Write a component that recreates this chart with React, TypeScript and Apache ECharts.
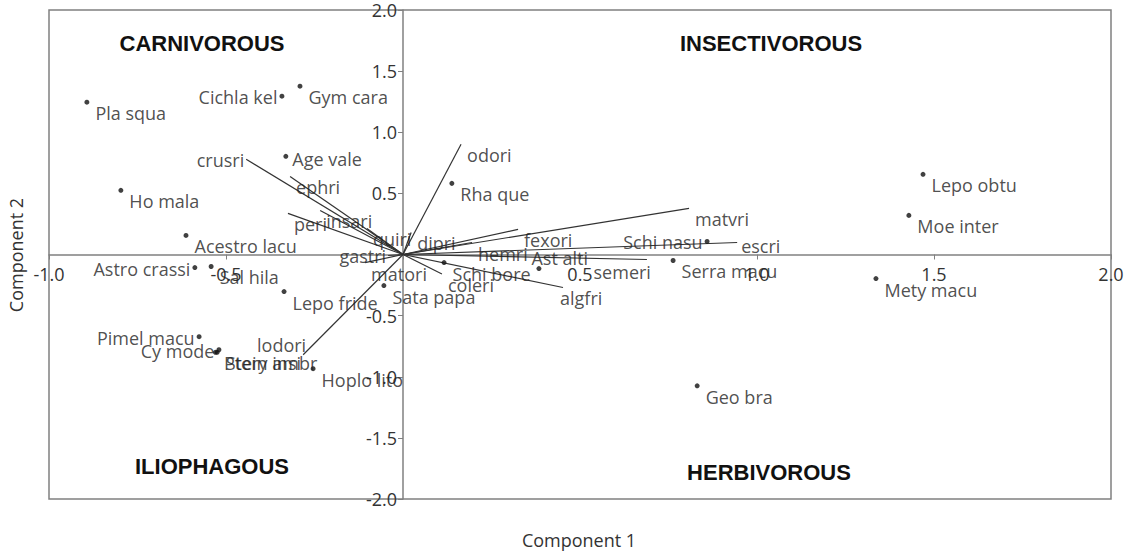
import React, { useEffect, useRef } from "react";
import * as echarts from "echarts";

// Species scores (Component 1, Component 2)
const speciesNames = [
  "Pla squa", "Cichla kel", "Gym cara", "Age vale", "Ho mala", "Acestro lacu",
  "Astro crassi", "Sal hila", "Lepo fride", "Pimel macu", "Cy mode", "Hoplo lito",
  "Ptery ambr", "Stein insi", "Rha que", "Ast alti", "Schi nasu", "Serra macu",
  "Lepo obtu", "Moe inter", "Mety macu", "Geo bra", "Schi bore", "Sata papa",
];
const speciesX = [
  -0.893, -0.342, -0.291, -0.331, -0.797, -0.613,
  -0.588, -0.542, -0.336, -0.576, -0.52, -0.254,
  -0.53, -0.525, 0.138, 0.384, 0.859, 0.763,
  1.469, 1.429, 1.336, 0.831, 0.116, -0.054,
];
const speciesY = [
  1.246, 1.295, 1.377, 0.803, 0.525, 0.156,
  -0.107, -0.098, -0.303, -0.672, -0.779, -0.934,
  -0.8, -0.8, 0.582, -0.115, 0.107, -0.049,
  0.656, 0.32, -0.197, -1.074, -0.066, -0.254,
];
// Which side of its point each species name sits on
const speciesLabelSide: Record<string, string> = {
  "Cichla kel": "l", "Astro crassi": "l", "Pimel macu": "l", "Cy mode": "l",
  "Schi nasu": "l", "Age vale": "r", "Ast alti": "rt",
};

// Variable loadings (diet items)
const variableNames = [
  "crusri", "ephri", "peri", "insari", "quiri", "gastri", "matori", "lodori",
  "odori", "dipri", "fexori", "hemri", "matvri", "escri", "semeri", "algfri", "coleri",
];
const variableX = [
  -0.443, -0.319, -0.325, -0.234, -0.102, -0.042, -0.107, -0.282,
  0.164, 0.023, 0.325, 0.195, 0.808, 0.944, 0.689, 0.452, 0.11,
];
const variableY = [
  0.779, 0.639, 0.336, 0.36, 0.213, -0.008, -0.066, -0.82,
  0.902, 0.18, 0.205, 0.098, 0.377, 0.098, -0.041, -0.27, -0.16,
];
const variableLabelSide: Record<string, string> = {
  crusri: "l", gastri: "l", lodori: "lt", escri: "r", semeri: "lb", algfri: "b",
};

const quadrantNames = ["CARNIVOROUS", "INSECTIVOROUS", "ILIOPHAGOUS", "HERBIVOROUS"];

const FONT = "'Open Sans', 'Noto Sans', sans-serif";
const FS = 18;

function labelFor(side: string | undefined) {
  const base = { show: true, color: "#222", fontFamily: FONT, fontSize: FS };
  switch (side) {
    case "l":
      return { ...base, position: "left", distance: 2, offset: [0, 1] };
    case "r":
      return { ...base, position: "right", distance: 4, offset: [0, 3] };
    case "rt":
      return { ...base, position: "right", distance: -10, offset: [0, -11] };
    case "lt":
      return { ...base, position: "left", distance: -3, offset: [0, -10] };
    case "lb":
      return { ...base, position: "left", distance: -4, offset: [0, 12] };
    case "b":
      return { ...base, position: "right", distance: -3, offset: [0, 10] };
    default:
      return { ...base, position: "right", distance: 6, offset: [0, 11] };
  }
}

export default function App() {
  const ref = useRef<HTMLDivElement>(null);
  useEffect(() => {
    if (!ref.current) return;
    const chart = echarts.init(ref.current, undefined, { renderer: "svg" });
    const axisColor = "#808080";
    const tickFmt = (v: number) => (Math.abs(v) < 1e-9 ? "" : v.toFixed(1));
    const gridLeft = 49, gridRight = 23, gridTop = 10, gridBottom = 54;
    const plotW = 1134 - gridLeft - gridRight;
    const plotH = 553 - gridTop - gridBottom;
    const xMin = -1, xMax = 2, yMin = -2, yMax = 2;
    // shift each axis from the grid edge to the zero line of the other axis
    const yAxisOffset = -((0 - xMin) / (xMax - xMin)) * plotW;
    const xAxisOffset = -((0 - yMin) / (yMax - yMin)) * plotH;
    const quadFont = "bold 22px 'Liberation Sans', Arial, sans-serif";
    chart.setOption({
      animation: false,
      backgroundColor: "#fff",
      grid: {
        left: gridLeft, right: gridRight, top: gridTop, bottom: gridBottom,
        show: true, borderColor: axisColor, borderWidth: 1.5, containLabel: false,
      },
      xAxis: {
        type: "value", min: xMin, max: xMax, interval: 0.5,
        position: "bottom", offset: xAxisOffset,
        axisLine: { onZero: false, lineStyle: { color: axisColor, width: 1.5 } },
        axisTick: { show: true, length: 5, lineStyle: { color: axisColor } },
        axisLabel: {
          formatter: tickFmt, color: "#333", fontFamily: FONT, fontSize: FS, margin: 10,
          showMinLabel: true, showMaxLabel: true, hideOverlap: false,
        },
        splitLine: { show: false },
      },
      yAxis: {
        type: "value", min: yMin, max: yMax, interval: 0.5,
        position: "left", offset: yAxisOffset,
        axisLine: { onZero: false, lineStyle: { color: axisColor, width: 1.5 } },
        axisTick: { show: true, length: 5, lineStyle: { color: axisColor } },
        axisLabel: {
          formatter: tickFmt, color: "#333", fontFamily: FONT, fontSize: FS, margin: 6,
          showMinLabel: true, showMaxLabel: true, hideOverlap: false,
        },
        splitLine: { show: false },
      },
      series: [
        {
          type: "lines",
          coordinateSystem: "cartesian2d",
          silent: true,
          symbol: "none",
          lineStyle: { color: "#333", width: 1.2, opacity: 1 },
          data: variableNames.map((n, i) => ({ coords: [[0, 0], [variableX[i], variableY[i]]] })),
          z: 2,
        },
        {
          type: "scatter",
          symbolSize: 0,
          silent: true,
          data: variableNames.map((n, i) => ({
            name: n,
            value: [variableX[i], variableY[i]],
            label: { ...labelFor(variableLabelSide[n]), formatter: n },
          })),
          z: 3,
        },
        {
          type: "scatter",
          symbolSize: 5,
          itemStyle: { color: "#111" },
          silent: true,
          data: speciesNames.map((n, i) => ({
            name: n,
            value: [speciesX[i], speciesY[i]],
            label: { ...labelFor(speciesLabelSide[n]), formatter: n },
          })),
          z: 4,
        },
      ],
      graphic: [
        { type: "text", x: 202, y: 43, style: { text: quadrantNames[0], font: quadFont, fill: "#111", align: "center", verticalAlign: "middle" } },
        { type: "text", x: 771, y: 43, style: { text: quadrantNames[1], font: quadFont, fill: "#111", align: "center", verticalAlign: "middle" } },
        { type: "text", x: 212, y: 466, style: { text: quadrantNames[2], font: quadFont, fill: "#111", align: "center", verticalAlign: "middle" } },
        { type: "text", x: 769, y: 472, style: { text: quadrantNames[3], font: quadFont, fill: "#111", align: "center", verticalAlign: "middle" } },
        { type: "text", x: 579, y: 540, style: { text: "Component 1", font: `18px ${FONT}`, fill: "#333", align: "center", verticalAlign: "middle" } },
        {
          type: "text", x: 16, y: 255, rotation: Math.PI / 2,
          style: { text: "Component 2", font: `18px ${FONT}`, fill: "#333", align: "center", verticalAlign: "middle" },
        },
      ],
    });
    return () => chart.dispose();
  }, []);
  return (
    <div
      ref={ref}
      style={{ position: "fixed", left: 0, top: 0, width: 1134, height: 553, background: "#fff" }}
    />
  );
}
